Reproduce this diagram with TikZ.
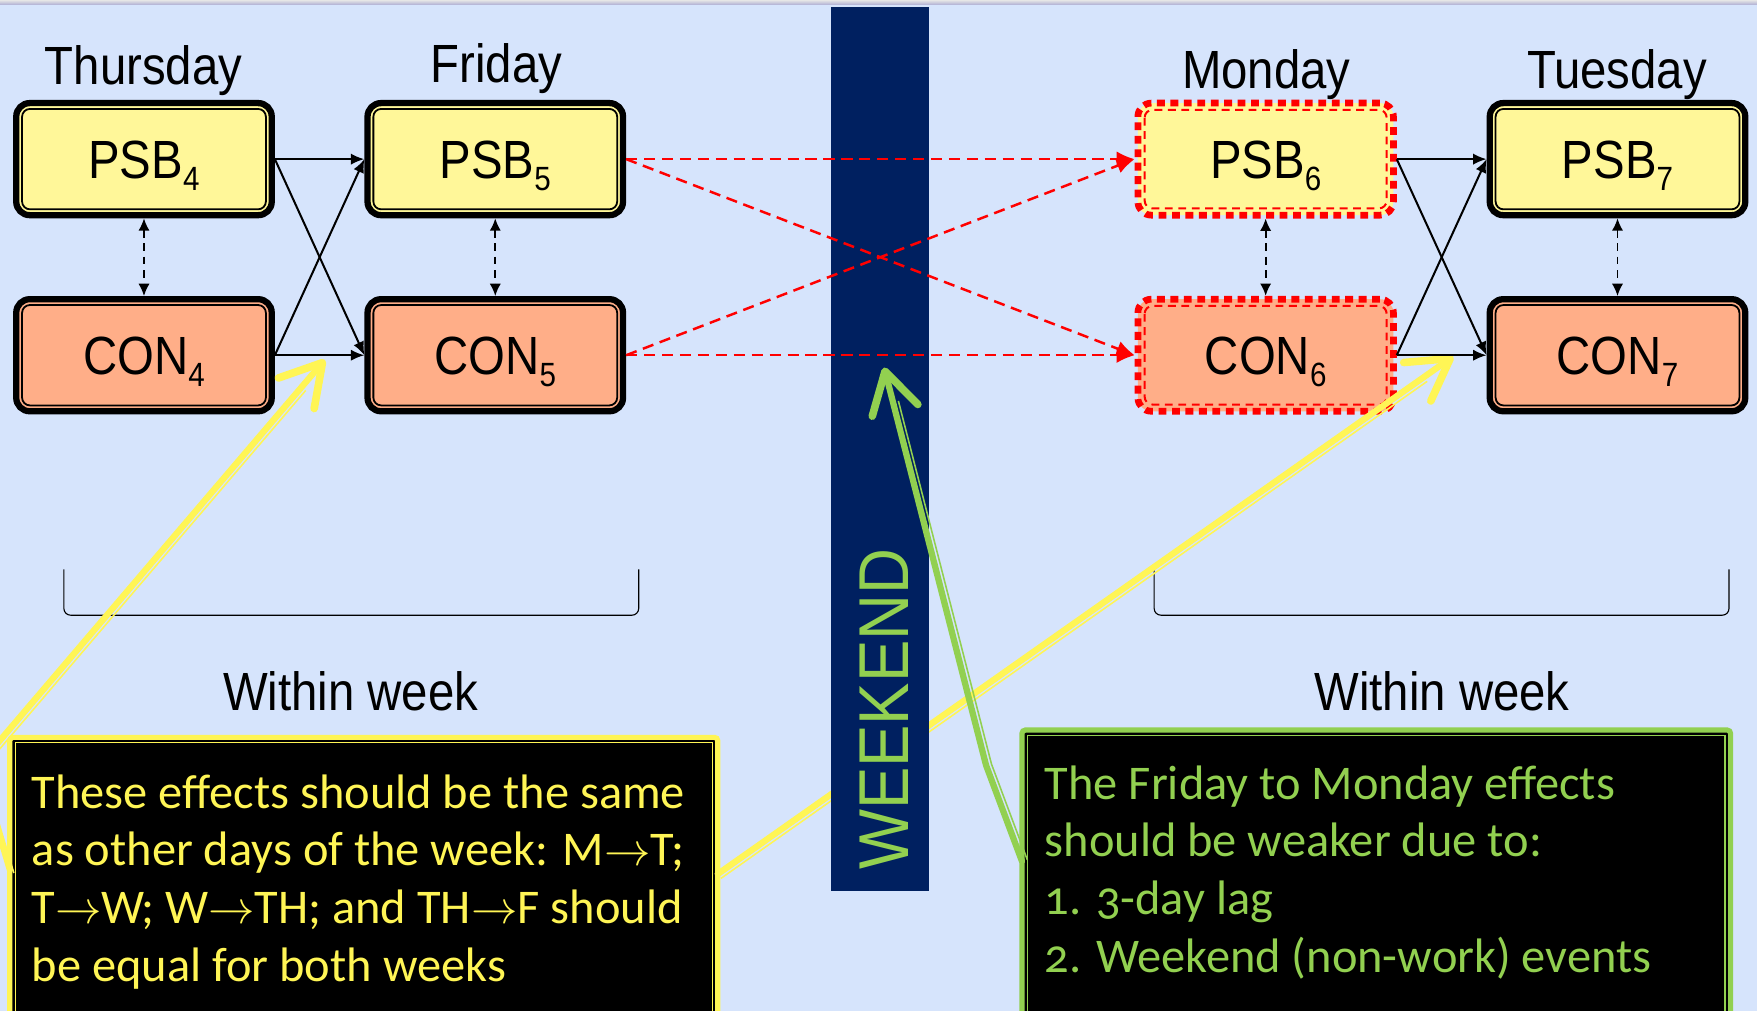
\documentclass[tikz,border=0pt]{standalone}
\usepackage{fontspec}
\setmainfont{Liberation Sans}
\newfontfamily\narrowsans[FakeStretch=0.88]{Liberation Sans}
\newfontfamily\barsans[FakeStretch=0.90]{Liberation Sans}
\newfontfamily\calloutfont[Numbers=OldStyle]{Carlito}
\usetikzlibrary{arrows.meta}

\definecolor{bgblue}{RGB}{214,228,252}
\definecolor{boxyel}{RGB}{255,247,153}
\definecolor{boxsal}{RGB}{255,174,136}
\definecolor{navy}{RGB}{0,32,96}
\definecolor{lgreen}{RGB}{146,208,80}
\definecolor{lyel}{RGB}{255,245,85}

% lowered index digit used in the box names
\newcommand\dayidx[1]{\raisebox{-0.22em}{\fontsize{15}{15}\selectfont #1}}

\begin{document}
\begin{tikzpicture}[x=0.5pt,y=-0.5pt,
  daylabel/.style={font=\narrowsans\fontsize{24}{28}\selectfont, anchor=base, inner sep=0},
  varbox/.style={rounded corners=6pt, minimum width=114pt, minimum height=50pt,
    inner sep=0, text height=17.2pt, text depth=0pt,
    font=\narrowsans\fontsize{24}{28}\selectfont},
  psb/.style={varbox, fill=boxyel},
  con/.style={varbox, fill=boxsal},
  solidrim/.style={draw=black, line width=2.8pt},
  dashrim/.style={draw=red, line width=3pt, dash pattern=on 3.5pt off 2.5pt},
  innerrim/.style={draw=black, line width=0.8pt, rounded corners=3.5pt},
  innerdash/.style={draw=red, line width=0.9pt, dash pattern=on 3.5pt off 2.5pt, rounded corners=3.5pt},
  flow/.style={draw=black, line width=0.9pt, -{Latex[length=6pt,width=5pt]}},
  link/.style={draw=black, line width=0.8pt, dash pattern=on 3.5pt off 2.5pt,
    {Latex[length=5.5pt,width=5pt]}-{Latex[length=5.5pt,width=5pt]}},
  carry/.style={draw=red, line width=1.1pt, dash pattern=on 5pt off 3pt,
    -{Latex[length=8pt,width=7pt]}},
  brk/.style={draw=black, line width=0.5pt, rounded corners=3pt},
  callbox/.style={fill=black, line width=2.3pt, outer sep=0, inner sep=0,
    anchor=north west, rounded corners=1.5pt},
  calltext/.style={font=\calloutfont\fontsize{21.6}{25.7}\selectfont, align=left,
    anchor=north west, inner sep=0},
  pointer/.style={line width=2.8pt, line cap=round, line join=round,
    -{Straight Barb[length=18pt,width=21pt,round,line width=0.6pt 1]}},
  pointerthin/.style={line width=0.7pt, shorten >=16pt}
]
\useasboundingbox (0,0) rectangle (1568,902);
\fill[bgblue] (0,0) rectangle (1568,902);
\shade[top color=gray!20, bottom color=black!55!blue!30] (0,0) rectangle (1568,4);

% day headings
\node[daylabel] (thu) at (128,75) {Thursday};
\node[daylabel] (fri) at (443,74) {Friday};
\node[daylabel] (mon) at (1130,79) {Monday};
\node[daylabel] (tue) at (1443,79) {Tuesday};

% variable boxes
\node[psb, solidrim] (psb4) at (128.5,142) {PSB\dayidx{4}};
\node[con, solidrim] (con4) at (128.5,317) {CON\dayidx{4}};
\node[psb, solidrim] (psb5) at (442,142) {PSB\dayidx{5}};
\node[con, solidrim] (con5) at (442,317) {CON\dayidx{5}};
\node[psb, dashrim] (psb6) at (1129.5,142) {PSB\dayidx{6}};
\node[con, dashrim] (con6) at (1129.5,317) {CON\dayidx{6}};
\node[psb, solidrim] (psb7) at (1443.5,142) {PSB\dayidx{7}};
\node[con, solidrim] (con7) at (1443.5,317) {CON\dayidx{7}};

\foreach \n in {psb4,con4,psb5,con5,psb7,con7}
  \draw[innerrim] ([shift={(8,8)}]\n.north west) rectangle ([shift={(-8,-8)}]\n.south east);
\foreach \n in {psb6,con6}
  \draw[innerdash] ([shift={(9,9)}]\n.north west) rectangle ([shift={(-9,-9)}]\n.south east);

% within-week brackets
\draw[brk] (57,508) -- (57,549) -- (570,549) -- (570,508);
\draw[brk] (1030,508) -- (1030,549) -- (1543,549) -- (1543,508);
\node[daylabel] (wkA) at (313,634) {Within week};
\node[daylabel] (wkB) at (1287,634) {Within week};

% callout boxes
\node[callbox, draw=lyel, minimum width=315.9pt, minimum height=141pt] (ycall) at (8.75,658) {};
\draw[lyel, line width=0.5pt] ([shift={(5,5)}]ycall.north west) rectangle ([shift={(-5,-5)}]ycall.south east);
\node[calltext, text=lyel] (ytext) at (28,685)
  {\strut These effects should be the same\\
   as other days of the week: M$\rightarrow$T;\\
   T$\rightarrow$W; W$\rightarrow$TH; and TH$\rightarrow$F should\\
   be equal for both weeks};

\node[callbox, draw=lgreen, minimum width=316.2pt, minimum height=145pt] (gcall) at (912,651.5) {};
\draw[lgreen, line width=0.5pt] ([shift={(5,5)}]gcall.north west) rectangle ([shift={(-5,-5)}]gcall.south east);
\node[calltext, text=lgreen] (gtext) at (932,677)
  {\strut The Friday to Monday effects\\
   should be weaker due to:\\
   1. 3-day lag\\
   2. Weekend (non-work) events};

% yellow pointers to the within-week arrows
\coordinate (ytipL) at (290,321);
\coordinate (ybendL) at (-19,683);
\coordinate (ytipR) at (1297,318);
\draw[pointer, lyel] ([shift={(0,118)}]ycall.north west) -- (ybendL) -- (ytipL);
\draw[pointerthin, lyel, transform canvas={shift={(3.6,3.1)}}] ([shift={(0,118)}]ycall.north west) -- (ybendL) -- (ytipL);
\draw[pointer, lyel] ([shift={(0,122)}]ycall.north east) -- (ytipR);
\draw[pointerthin, lyel, transform canvas={shift={(2.8,3.9)}}] ([shift={(0,122)}]ycall.north east) -- (ytipR);

% weekend bar
\fill[navy] (742,6) rectangle (829,795);
\node[rotate=90, text=lgreen, font=\barsans\fontsize{31.5}{36}\selectfont, inner sep=0] (weekend) at (789,633) {WEEKEND};

% within-week effects
\foreach \a/\b in {4/5,6/7}{
  \draw[flow] (psb\a.east) -- (psb\b.west);
  \draw[flow] (con\a.east) -- (con\b.west);
  \draw[flow] (psb\a.east) -- (con\b.west);
  \draw[flow] (con\a.east) -- (psb\b.west);
}
\foreach \d in {4,5,6,7}
  \draw[link] (psb\d.south) -- (con\d.north);

% effects across the weekend
\draw[carry] (psb5.east) -- (psb6.west);
\draw[carry] (psb5.east) -- (con6.west);
\draw[carry] (con5.east) -- (psb6.west);
\draw[carry] (con5.east) -- (con6.west);

% green pointer to the weekend
\coordinate (gtip) at (789,328);
\coordinate (gbend) at (880,683);
\draw[pointer, lgreen] ([shift={(0,117)}]gcall.north west) -- (gbend) -- (gtip);
\draw[pointerthin, lgreen, transform canvas={shift={(4.8,-1.2)}}] ([shift={(0,117)}]gcall.north west) -- (gbend) -- (gtip);
\end{tikzpicture}
\end{document}
